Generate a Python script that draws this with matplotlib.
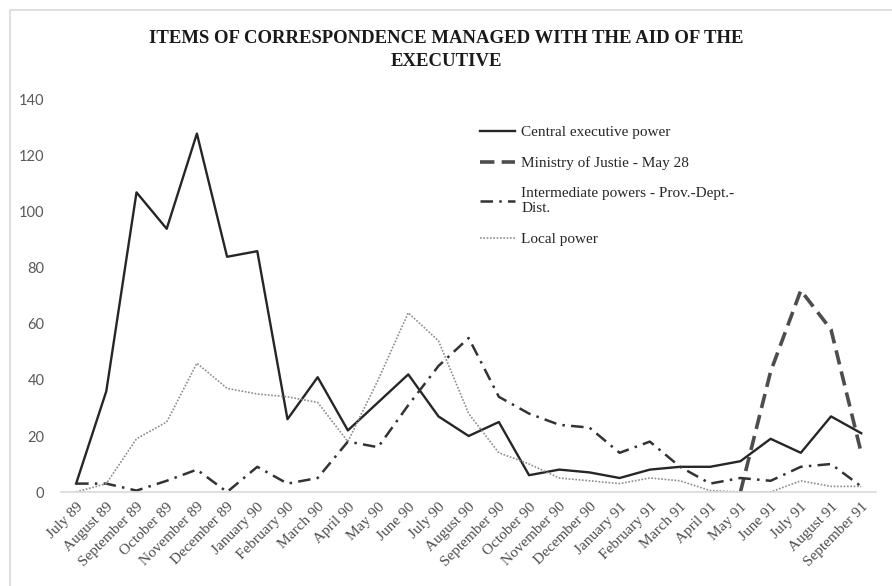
import matplotlib.pyplot as plt
from matplotlib.patches import Rectangle

months = ["July 89", "August 89", "September 89", "October 89", "November 89",
          "December 89", "January 90", "February 90", "March 90", "April 90",
          "May 90", "June 90", "July 90", "August 90", "September 90",
          "October 90", "November 90", "December 90", "January 91",
          "February 91", "March 91", "April 91", "May 91", "June 91",
          "July 91", "August 91", "September 91"]

central = [3, 36, 107, 94, 128, 84, 86, 26, 41, 22, 32, 42, 27, 20, 25,
           6, 8, 7, 5, 8, 9, 9, 11, 19, 14, 27, 21]
# ministry series only starts in May 91
justice = [None] * 22 + [0, 43, 72, 58, 14]
intermediate = [3, 3, 0.5, 4, 8, 0, 9, 3, 5, 18, 16, 31, 45, 55, 34,
                28, 24, 23, 14, 18, 9, 3, 5, 4, 9, 10, 2]
local = [0, 3, 19, 25, 46, 37, 35, 34, 32, 18, 40, 64, 54, 28, 14,
         10, 5, 4, 3, 5, 4, 0.5, 0, 0, 4, 2, 2]

x = list(range(len(months)))
justice_x = [i for i, v in enumerate(justice) if v is not None]
justice_y = [v for v in justice if v is not None]

fig = plt.figure(figsize=(8.92, 5.86), dpi=100)
ax = fig.add_axes([0.0684, 0.1604, 0.914, 0.669])

# chart frame
fig.patches.append(Rectangle((10 / 892, -0.1), 1.2, 1 - 10 / 586 + 0.1,
                             transform=fig.transFigure, fill=False,
                             edgecolor="#d9d9d9", lw=1.2))

ax.plot(x, central, color="#262626", lw=1.7, label="Central executive power")
ax.plot(justice_x, justice_y, color="#4d4d4d", lw=2.6, dashes=(4, 2),
        label="Ministry of Justie - May 28")
ax.plot(x, intermediate, color="#333333", lw=1.8, dashes=(5, 2.5, 1, 2.5),
        label="Intermediate powers - Prov.-Dept.-\nDist.")
ax.plot(x, local, color="#8c8c8c", lw=1.2, dashes=(1, 1),
        label="Local power")

ax.set_xlim(-0.5, len(months) - 0.5)
ax.set_ylim(0, 140)
ax.set_yticks(range(0, 141, 20))
ax.set_xticks(x)
ax.set_xticklabels(months, rotation=45, ha="right", rotation_mode="anchor",
                   family="Liberation Serif", fontsize=11, color="#4d4d4d")
for lab in ax.get_yticklabels():
    lab.set_family("Lato")
    lab.set_fontsize(10.5)
    lab.set_color("#595959")
ax.tick_params(length=0)
ax.tick_params(axis="y", pad=12)
ax.tick_params(axis="x", pad=6)

for side in ["top", "right", "left"]:
    ax.spines[side].set_visible(False)
ax.spines["bottom"].set_color("#d9d9d9")
ax.spines["bottom"].set_linewidth(1.2)

leg = ax.legend(loc="upper left", bbox_to_anchor=(0.497, 0.97), frameon=False,
                prop={"family": "Liberation Serif", "size": 11},
                handlelength=2.3, handletextpad=0.4, labelspacing=1.12)
for t in leg.get_texts():
    t.set_color("#262626")

fig.text(0.5, 0.915, "ITEMS OF CORRESPONDENCE MANAGED WITH THE AID OF THE\nEXECUTIVE",
         ha="center", va="center", family="Liberation Serif", weight="bold",
         fontsize=13.5, color="#1a1a1a", linespacing=1.45)

fig.savefig("out.png", dpi=100)
